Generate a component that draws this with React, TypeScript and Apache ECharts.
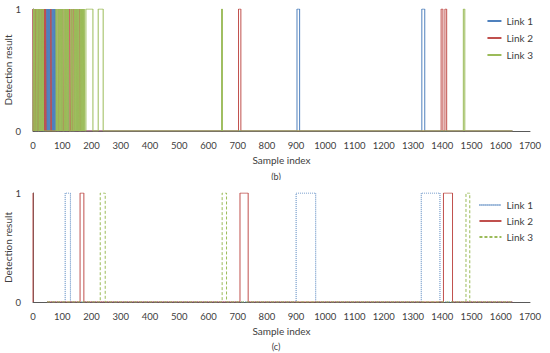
import React, { useEffect, useRef } from "react";
import * as echarts from "echarts";

// ---- data ----
const X_MIN = 0;
const X_MAX = 1700;
const X_INTERVAL = 100;
const END_SAMPLE = 1640;
const C_START = 48;
const SERIES_NAMES = ["Link 1", "Link 2", "Link 3"];
const COLORS = ["#4F81BD", "#C0504D", "#9BBB59"];

// chart (b): intervals [start, end] where detection result = 1
const bLink1Pulses = [
  [1, 3], [5, 7], [9, 11], [14, 16], [19, 21], [25, 27], [30, 32], [38, 40],
  [44, 46], [47, 49], [50, 52], [53, 55], [56, 58], [59, 61], [62, 64], [65, 67],
  [68, 70], [71, 73], [74, 76], [77, 79], [97, 99], [120, 122], [150, 152],
  [903, 912], [1330, 1340],
];
const bLink2Pulses = [
  [0, 2], [3, 5], [8, 10], [12, 14], [17, 19], [22, 24], [28, 30], [33, 35], [36, 38],
  [40, 42], [43, 45], [61, 63], [86, 88], [102, 104], [111, 112], [126, 128], [133, 135],
  [140, 142], [160, 162],
  [703, 711], [1396, 1402], [1409, 1415],
];
const bLink3Pulses = [
  [2, 4], [6, 8], [11, 13], [15, 17], [20, 22], [24, 26], [27, 29], [31, 33], [35, 36],
  [79, 81], [82, 84], [88, 90], [91, 93], [94, 96], [97, 99], [100, 102], [106, 108],
  [109, 111], [112, 114], [115, 117], [118, 120], [121, 123], [130, 132], [136, 138],
  [142, 144], [145, 147], [148, 150], [151, 153], [154, 156], [157, 159], [163, 165],
  [166, 168], [169, 171], [172, 174], [175, 177], [181, 205], [223, 240],
  [645, 648], [1472, 1477],
];

// chart (c)
const cLink1Pulses = [[110, 128], [900, 967], [1328, 1392]];
const cLink2Pulses = [[161, 174], [708, 736], [1404, 1435]];
const cLink3Pulses = [[230, 247], [647, 662], [1481, 1494]];
const cLink2Initial = [[0, 1], [0, 0]];

const FONT = "Lato";
const TEXT_COLOR = "#404040";
const AXIS_COLOR = "#595959";

function steps(pulses: number[][], start: number, end: number) {
  const pts: any[] = [[start, 0]];
  for (const [a, b] of pulses) {
    pts.push([a, 0], [a, 1], [b, 1], [b, 0]);
  }
  pts.push([end, 0]);
  return pts;
}

function makeOption(
  gridTop: number,
  gridHeight: number,
  seriesData: any[][],
  lineTypes: any[],
  legendTop: number,
  legendItemWidth: number,
  legendGap: number,
  tag: string,
  tagY: number
) {
  return {
    animation: false,
    grid: {
      left: 33,
      right: 20,
      top: gridTop,
      height: gridHeight,
      containLabel: false,
      outerBoundsMode: "none",
    },
    legend: {
      orient: "vertical",
      right: 12,
      top: legendTop,
      itemWidth: legendItemWidth,
      itemHeight: 8,
      itemGap: legendGap,
      itemStyle: { opacity: 0 },
      textStyle: { fontFamily: FONT, fontSize: 10, color: TEXT_COLOR },
      data: SERIES_NAMES,
    },
    xAxis: {
      type: "value",
      min: X_MIN,
      max: X_MAX,
      interval: X_INTERVAL,
      name: "Sample index",
      nameLocation: "middle",
      nameGap: 24,
      nameMoveOverlap: false,
      nameTextStyle: { fontFamily: FONT, fontSize: 10, color: TEXT_COLOR },
      axisLine: { show: true, lineStyle: { color: AXIS_COLOR, width: 1 } },
      axisTick: { show: false },
      splitLine: { show: false },
      axisLabel: {
        fontFamily: FONT,
        fontSize: 9.5,
        color: TEXT_COLOR,
        margin: 9,
        formatter: (v: number) => String(v),
      },
    },
    yAxis: {
      type: "value",
      min: 0,
      max: 1,
      interval: 1,
      name: "Detection result",
      nameLocation: "middle",
      nameGap: 20,
      nameMoveOverlap: false,
      nameTextStyle: { fontFamily: FONT, fontSize: 10, color: TEXT_COLOR },
      axisLine: { show: true, lineStyle: { color: AXIS_COLOR, width: 1 } },
      axisTick: { show: false },
      splitLine: { show: false },
      axisLabel: { fontFamily: FONT, fontSize: 9.5, color: TEXT_COLOR, margin: 12 },
    },
    graphic: [
      {
        type: "text",
        x: 276,
        y: tagY,
        style: {
          text: tag,
          fontFamily: FONT,
          fontSize: 9,
          fill: TEXT_COLOR,
          align: "center",
          verticalAlign: "middle",
        },
      },
    ],
    series: SERIES_NAMES.map((name, i) => ({
      name,
      type: "line",
      data: seriesData[i],
      showSymbol: false,
      symbol: "none",
      connectNulls: false,
      color: COLORS[i],
      lineStyle: { color: COLORS[i], width: 1, type: lineTypes[i] },
      emphasis: { disabled: true },
      z: 2 + i,
    })),
  };
}

export default function App() {
  const refB = useRef<HTMLDivElement>(null);
  const refC = useRef<HTMLDivElement>(null);

  useEffect(() => {
    const chartB = echarts.init(refB.current!, null, { renderer: "svg" });
    const chartC = echarts.init(refC.current!, null, { renderer: "svg" });

    const bData = [
      steps(bLink1Pulses, 0, END_SAMPLE),
      steps(bLink2Pulses, 0, END_SAMPLE),
      steps(bLink3Pulses, 0, END_SAMPLE),
    ];
    const cData = [
      steps(cLink1Pulses, C_START, END_SAMPLE),
      [...cLink2Initial, [C_START / 2, null], ...steps(cLink2Pulses, C_START, END_SAMPLE)],
      steps(cLink3Pulses, C_START, END_SAMPLE),
    ];

    chartB.setOption(
      makeOption(9, 122, bData, ["solid", "solid", "solid"], 11, 14, 7, "(b)", 176)
    );
    chartC.setOption(
      makeOption(13, 109, cData, [[1, 1], "solid", [3, 2]], 15, 22, 6, "(c)", 166)
    );

    return () => {
      chartB.dispose();
      chartC.dispose();
    };
  }, []);

  return (
    <div style={{ position: "fixed", left: 0, top: 0, width: 550, height: 353, background: "#fff" }}>
      <div ref={refB} style={{ position: "absolute", left: 0, top: 0, width: 550, height: 180 }} />
      <div ref={refC} style={{ position: "absolute", left: 0, top: 180, width: 550, height: 173 }} />
    </div>
  );
}
